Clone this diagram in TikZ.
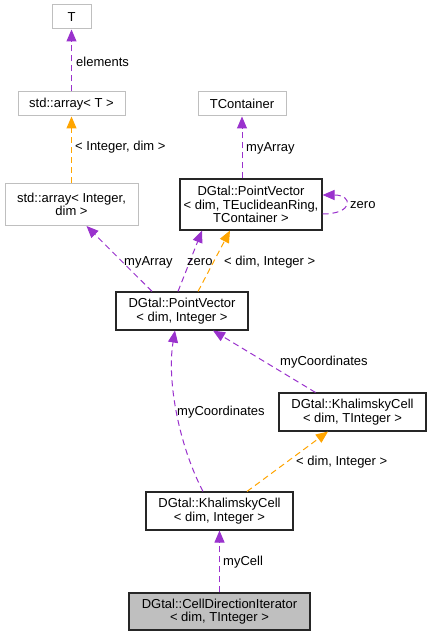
\documentclass[tikz,border=0pt]{standalone}
\usepackage{fontspec}
\setmainfont{Liberation Sans}
\usetikzlibrary{arrows.meta,calc}
\definecolor{edgepurple}{HTML}{9A32CD}
\definecolor{edgeorange}{HTML}{FFA500}
\definecolor{boxgray}{HTML}{BFBFBF}
\begin{document}
\begin{tikzpicture}[x=1pt,y=-1pt,
  every node/.style={font=\fontsize{13}{13.4}\selectfont, align=center, inner sep=0pt},
  extbox/.style={draw=boxgray, line width=1pt, fill=white},
  cbox/.style={draw=black!85, line width=1.1pt, fill=white},
  mainbox/.style={draw=black!85, line width=1.1pt, fill=boxgray},
  uses/.style={draw=edgepurple, line width=1pt, dash pattern=on 6pt off 4pt, -{Triangle[length=12pt,width=10pt]}},
  inst/.style={draw=edgeorange, line width=1pt, dash pattern=on 6pt off 4pt, -{Triangle[length=12pt,width=10pt]}},
  lbl/.style={anchor=west}
]
\useasboundingbox (0,0) rectangle (430,636);
\fill[white] (0,0) rectangle (430,636);

\node[extbox, minimum width=39pt, minimum height=24pt] (T) at (71.5,17) {T};
\node[extbox, minimum width=107pt, minimum height=24pt] (arrT) at (71.5,104) {std::array< T >};
\node[extbox, minimum width=133pt, minimum height=42pt] (arrInt) at (71.5,204.5) {std::array< Integer,\\ dim >};
\node[extbox, minimum width=88pt, minimum height=24pt] (TCont) at (242,104) {TContainer};
\node[cbox, minimum width=142pt, minimum height=51pt] (PVT) at (251,204.5) {DGtal::PointVector\\ < dim, TEuclideanRing,\\ TContainer >};
\node[cbox, minimum width=132pt, minimum height=38pt] (PV) at (182,311) {DGtal::PointVector\\ < dim, Integer >};
\node[cbox, minimum width=147pt, minimum height=38pt] (KCT) at (352.5,412) {DGtal::KhalimskyCell\\ < dim, TInteger >};
\node[cbox, minimum width=147pt, minimum height=38pt] (KC) at (219.5,511) {DGtal::KhalimskyCell\\ < dim, Integer >};
\node[mainbox, minimum width=181pt, minimum height=37pt] (CDI) at (219.5,611.5) {DGtal::CellDirectionIterator\\ < dim, TInteger >};

% edges
\draw[uses] (arrT.north) -- (T.south);
\node[lbl] (lElements) at (76,62) {elements};

\draw[inst] (arrInt.north) -- (arrT.south);
\node[lbl] (lIntDim) at (75,147) {< Integer, dim >};

\draw[uses] (PVT.north -| TCont.south) -- (TCont.south);
\node[lbl] (lMyArray1) at (246,148) {myArray};

\draw[uses] ($(PVT.east)+(0,9.5)$) .. controls ($(PVT.east)+(31,9.5)$) and ($(PVT.east)+(31,-9.5)$) .. ($(PVT.east)+(0,-9.5)$);
\node[lbl] (lZeroLoop) at (350,205) {zero};

\draw[uses] ($(PV.north)+(-30,0)$) -- ($(arrInt.south)+(15,0)$);
\node[lbl] (lMyArray2) at (124,262) {myArray};

\draw[uses] ($(PV.north)+(-4,0)$) -- ($(PVT.south)+(-49,0)$);
\node[lbl] (lZero) at (187,262) {zero};

\draw[inst] ($(PV.north)+(16,0)$) -- ($(PVT.south)+(-21,0)$);
\node[lbl] (lDimInt1) at (224,262) {< dim, Integer >};

\draw[uses] ($(KCT.north)+(-37,0)$) -- ($(PV.south)+(31,0)$);
\node[lbl] (lCoord1) at (280,362) {myCoordinates};

\draw[uses] ($(KC.north)+(-16.5,0)$) .. controls ($(KC.north)+(-40,-45)$) and ($(KC.north)+(-53,-110)$) .. ($(PV.south)+(-7,0)$);
\node[lbl] (lCoord2) at (177,412) {myCoordinates};

\draw[inst] ($(KC.north)+(27.5,0)$) -- ($(KCT.south)+(-24.5,0)$);
\node[lbl] (lDimInt2) at (296,462) {< dim, Integer >};

\draw[uses] (CDI.north) -- (KC.south);
\node[lbl] (lCell) at (223,562) {myCell};
\end{tikzpicture}
\end{document}
